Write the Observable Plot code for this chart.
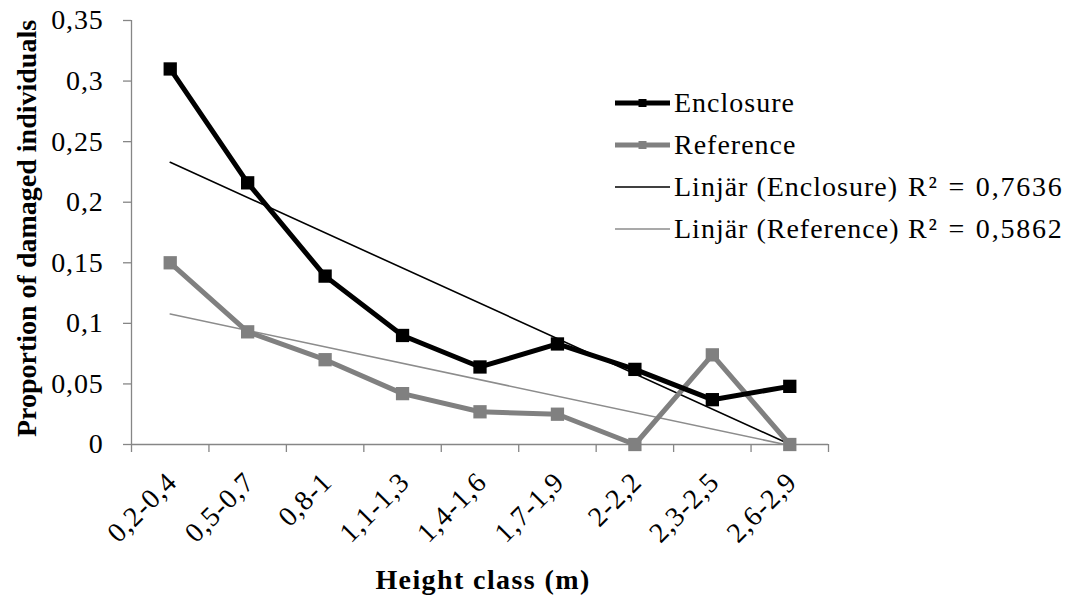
<!DOCTYPE html>
<html>
<head>
<meta charset="utf-8">
<script src="https://cdn.jsdelivr.net/npm/d3@7"></script>
<script src="https://cdn.jsdelivr.net/npm/@observablehq/plot@0.6"></script>
<style>
  html, body { margin: 0; padding: 0; background: #fff; }
  #wrap { position: relative; width: 1075px; height: 598px; font-family: "Liberation Serif", "Times New Roman", serif; }
  #legend { position: absolute; left: 0; top: 0; }
  .row { position: absolute; left: 615px; height: 32px; line-height: 32px; font-size: 28px; letter-spacing: 1px; white-space: nowrap; display: flex; align-items: center; }
  .row svg { display: block; }
  .r2 { position: absolute; left: 908px; height: 32px; line-height: 32px; font-size: 28px; letter-spacing: 1.8px; word-spacing: 1px; white-space: nowrap; }
</style>
</head>
<body>
<div id="wrap"></div>
<script>
const categories = ["0,2-0,4", "0,5-0,7", "0,8-1", "1,1-1,3", "1,4-1,6", "1,7-1,9", "2-2,2", "2,3-2,5", "2,6-2,9"];
const enclosure = [0.31, 0.216, 0.139, 0.09, 0.064, 0.083, 0.062, 0.037, 0.048];
const reference = [0.15, 0.093, 0.07, 0.042, 0.027, 0.025, 0, 0.074, 0];
const yTicks = [0, 0.05, 0.1, 0.15, 0.2, 0.25, 0.3, 0.35];
const seriesNames = ["Enclosure", "Reference"];
const r2Labels = ["R² = 0,7636", "R² = 0,5862"];
const yTitle = "Proportion of damaged individuals";
const xTitle = "Height class (m)";

const colors = {Enclosure: "#000000", Reference: "#808080"};
const trendColors = {Enclosure: "#000000", Reference: "#8c8c8c"};
const axisColor = "#868686";

const rows = [];
categories.forEach((c, i) => {
  rows.push({series: "Enclosure", idx: i + 1, v: enclosure[i]});
  rows.push({series: "Reference", idx: i + 1, v: reference[i]});
});
const enc = rows.filter(d => d.series === "Enclosure");
const ref = rows.filter(d => d.series === "Reference");
const fmt = d => String(+d.toFixed(2)).replace(".", ",");

const plot = Plot.plot({
  width: 1075,
  height: 598,
  marginTop: 20,
  marginBottom: 154,
  marginLeft: 131,
  marginRight: 247,
  style: {fontFamily: "'Liberation Serif', 'Times New Roman', serif", fontSize: "28px", background: "#fff", color: "#000", letterSpacing: "0.8px"},
  x: {type: "linear", domain: [0.5, 9.5], axis: null},
  y: {domain: [0, 0.35], axis: null},
  marks: [
    Plot.ruleX([0.5], {stroke: axisColor, strokeWidth: 1.3}),
    Plot.ruleY([0], {stroke: axisColor, strokeWidth: 1.3}),
    Plot.axisY({ticks: yTicks, tickSize: 8, tickFormat: () => "", stroke: axisColor, strokeWidth: 1.3, label: null}),
    Plot.text(yTicks, {y: d => d, text: fmt, frameAnchor: "left", dx: -28, textAnchor: "end", lineAnchor: "middle", fontSize: 28, fill: "#000"}),
    Plot.axisX({ticks: d3.range(0.5, 10, 1), tickSize: 8, tickFormat: () => "", stroke: axisColor, strokeWidth: 1.3, label: null}),
    Plot.text(categories.map((c, i) => ({c, idx: i + 1})), {
      x: "idx", text: "c", frameAnchor: "bottom", dx: 2, dy: 33, rotate: -45,
      textAnchor: "end", lineAnchor: "middle", fontSize: 28, fill: "#000"
    }),
    Plot.linearRegressionY(enc, {x: "idx", y: "v", ci: 0, stroke: trendColors.Enclosure, strokeWidth: 1.6}),
    Plot.linearRegressionY(ref, {x: "idx", y: "v", ci: 0, stroke: trendColors.Reference, strokeWidth: 1.6}),
    Plot.line(ref, {x: "idx", y: "v", stroke: colors.Reference, strokeWidth: 5, strokeLinejoin: "miter"}),
    Plot.dot(ref, {x: "idx", y: "v", symbol: "square", r: 7.5, fill: colors.Reference, stroke: "none"}),
    Plot.line(enc, {x: "idx", y: "v", stroke: colors.Enclosure, strokeWidth: 5, strokeLinejoin: "miter"}),
    Plot.dot(enc, {x: "idx", y: "v", symbol: "square", r: 7.5, fill: colors.Enclosure, stroke: "none"}),
    Plot.text([yTitle], {
      frameAnchor: "left", dx: -104, dy: -4, rotate: -90, textAnchor: "middle", lineAnchor: "middle",
      fontSize: 28, fontWeight: "bold", fill: "#000"
    }),
    Plot.text([xTitle], {
      frameAnchor: "bottom", dy: 136, dx: 3, textAnchor: "middle", lineAnchor: "middle",
      fontSize: 28, fontWeight: "bold", fill: "#000"
    })
  ]
});

d3.select(plot).selectAll("text").filter(function() { return this.textContent === yTitle; }).style("letter-spacing", "0px");
d3.select(plot).selectAll("text").filter(function() { return this.textContent === xTitle; }).style("letter-spacing", "1.4px");

const wrap = document.getElementById("wrap");
wrap.appendChild(plot);

// Legend
const legend = document.createElement("div");
legend.id = "legend";
const centers = [103, 145, 187, 229];
const entries = [
  {label: seriesNames[0], color: colors.Enclosure, width: 5, marker: true},
  {label: seriesNames[1], color: colors.Reference, width: 5, marker: true},
  {label: "Linjär (" + seriesNames[0] + ")", color: trendColors.Enclosure, width: 1.6, marker: false, r2: r2Labels[0]},
  {label: "Linjär (" + seriesNames[1] + ")", color: trendColors.Reference, width: 1.6, marker: false, r2: r2Labels[1]}
];
entries.forEach((e, i) => {
  const row = document.createElement("div");
  row.className = "row";
  row.style.top = (centers[i] - 16) + "px";
  const sw = d3.create("svg").attr("width", 59).attr("height", 20);
  sw.append("line").attr("x1", 0).attr("x2", 55).attr("y1", 10).attr("y2", 10)
    .attr("stroke", e.color).attr("stroke-width", e.width);
  if (e.marker) sw.append("rect").attr("x", 23.5).attr("y", 6).attr("width", 8).attr("height", 8).attr("fill", e.color);
  row.appendChild(sw.node());
  const t = document.createElement("span");
  t.textContent = e.label;
  row.appendChild(t);
  legend.appendChild(row);
  if (e.r2) {
    const r = document.createElement("div");
    r.className = "r2";
    r.style.top = (centers[i] - 16) + "px";
    r.textContent = e.r2;
    legend.appendChild(r);
  }
});
wrap.appendChild(legend);
</script>
</body>
</html>
